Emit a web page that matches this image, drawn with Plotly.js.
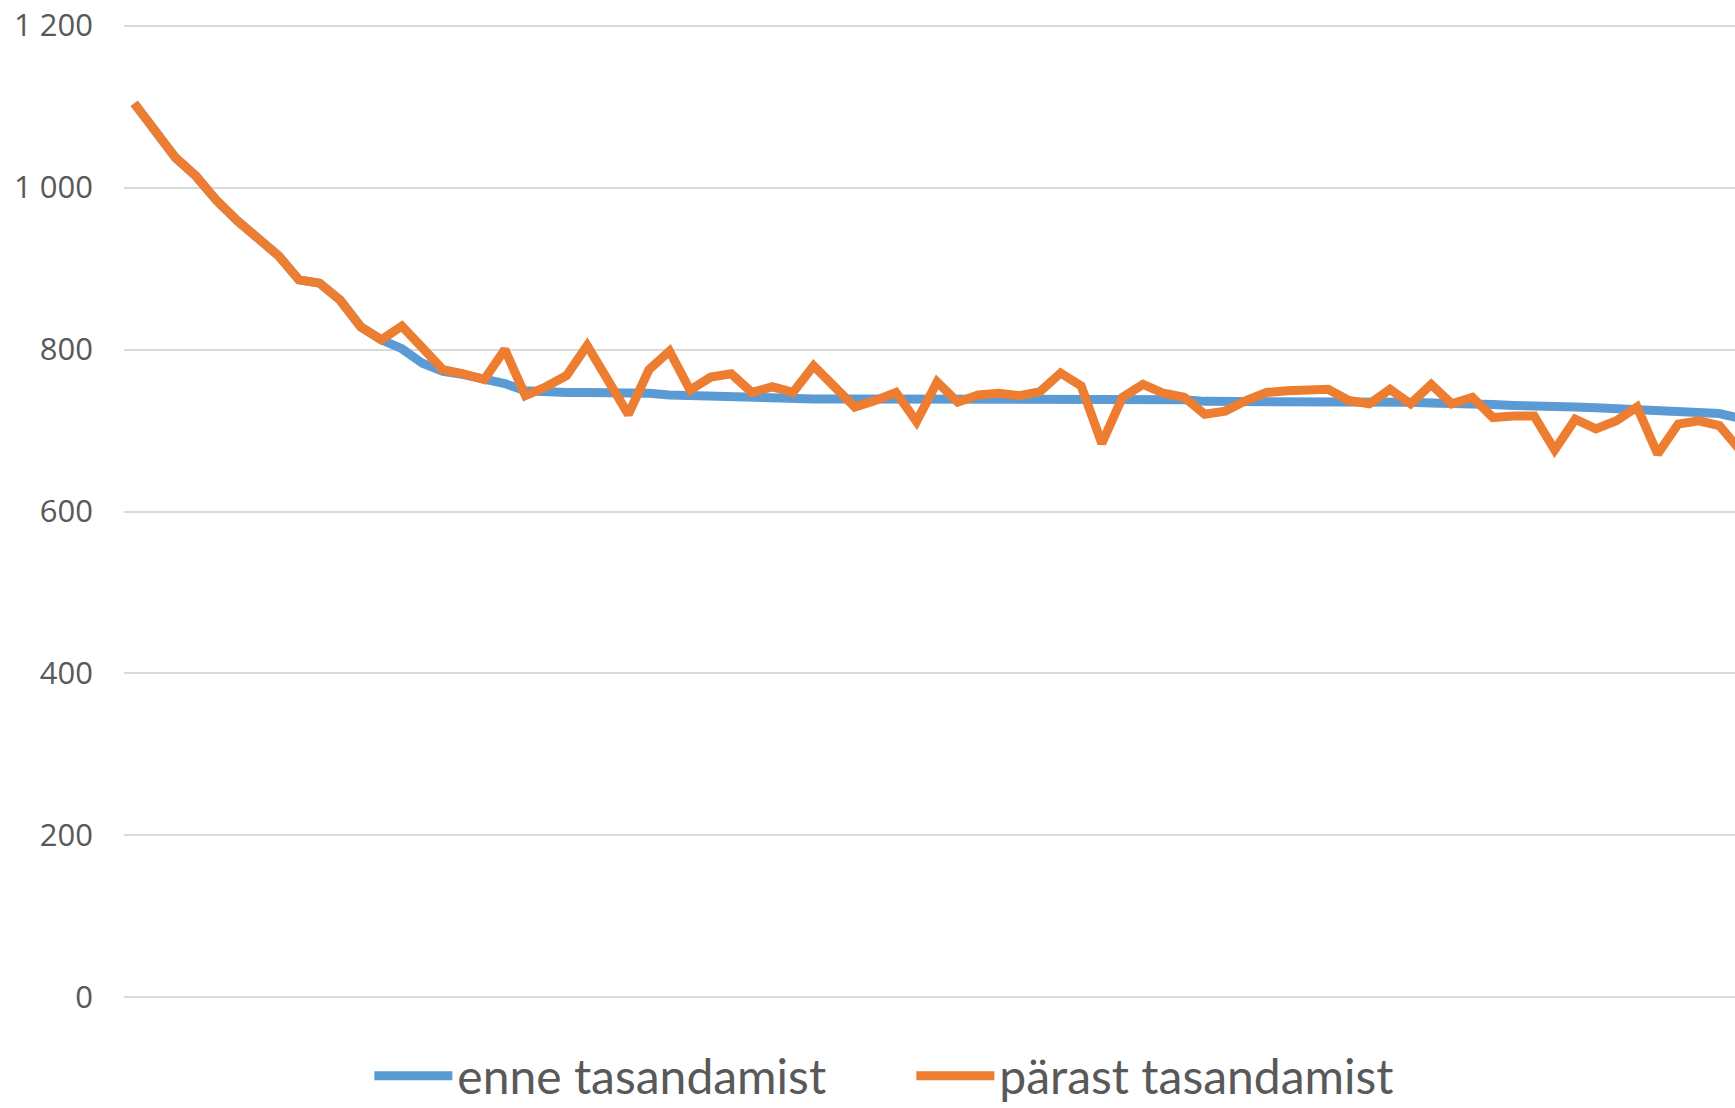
<!DOCTYPE html>
<html>
<head>
<meta charset="utf-8">
<script src="https://cdn.plot.ly/plotly-3.0.1.min.js"></script>
<style>
  html, body { margin: 0; padding: 0; background: #ffffff; }
  #chart { width: 1735px; height: 1108px; }
</style>
</head>
<body>
<div id="chart"></div>
<script>
// Series names
const seriesNames = ["enne tasandamist", "pärast tasandamist"];

// Values before smoothing (blue)
const enneTasandamist = [
  1104, 1070, 1037, 1014, 984, 959, 939, 916, 886, 882,
  861, 828, 812, 801, 783, 773, 769, 764, 758, 749,
  747, 747, 747, 747, 747, 746, 744, 743, 742, 741,
  741, 741, 740, 739, 739, 739, 739, 739, 739, 739,
  739, 739, 739, 739, 739, 739, 739, 739, 739, 739,
  738, 738, 736, 736, 736, 737, 737, 737, 737, 736,
  736, 735, 735, 734, 734, 733, 732, 731, 731, 730,
  729, 728, 727, 727, 726, 725, 724, 721, 715
];

// Values after smoothing (orange)
const parastTasandamist = [
  1104, 1070, 1037, 1014, 984, 959, 939, 916, 886, 882,
  861, 828, 812, 829, 802, 775, 770, 763, 800, 743,
  754, 768, 805, 762, 720, 775, 798, 750, 766, 770,
  747, 754, 747, 780, 755, 729, 737, 747, 711, 760,
  735, 744, 746, 743, 748, 771, 755, 684, 741, 757,
  746, 741, 720, 724, 737, 747, 749, 749, 751, 737,
  733, 751, 733, 757, 733, 741, 716, 718, 718, 676,
  714, 702, 712, 729, 671, 708, 712, 706, 676
];

// Y-axis ticks
const yTickValues = [0, 200, 400, 600, 800, 1000, 1200];
const yTickLabels = ["0", "200", "400", "600", "800", "1 000", "1 200"];

const traces = [
  {
    y: enneTasandamist,
    name: seriesNames[0],
    type: "scatter",
    mode: "lines",
    line: { color: "#5B9BD5", width: 9 }
  },
  {
    y: parastTasandamist,
    name: seriesNames[1],
    type: "scatter",
    mode: "lines",
    line: { color: "#ED7D31", width: 9, shape: "linear" }
  }
];

const layout = {
  width: 1735,
  height: 1108,
  paper_bgcolor: "#ffffff",
  plot_bgcolor: "#ffffff",
  margin: { l: 124, r: 0, t: 24, b: 109, pad: 0, autoexpand: false },
  showlegend: true,
  legend: {
    orientation: "h",
    x: 0.1523,
    xanchor: "left",
    y: -0.079,
    yanchor: "middle",
    font: { family: "Lato, 'Open Sans', sans-serif", size: 48, color: "#595959" },
    itemwidth: 78,
    entrywidth: 449,
    entrywidthmode: "pixels",
    bgcolor: "rgba(0,0,0,0)"
  },
  xaxis: {
    range: [-0.5, 77.76],
    showgrid: false,
    zeroline: false,
    showline: false,
    showticklabels: false,
    ticks: ""
  },
  yaxis: {
    range: [-2, 1202],
    tickvals: yTickValues,
    ticktext: yTickLabels,
    showgrid: true,
    gridcolor: "#D9D9D9",
    gridwidth: 2,
    zeroline: false,
    showline: false,
    ticks: "",
    ticklabelstandoff: 30,
    tickfont: { family: "'Open Sans', sans-serif", size: 31, color: "#595959" }
  }
};

Plotly.newPlot("chart", traces, layout, { displayModeBar: false, staticPlot: true });
</script>
</body>
</html>
